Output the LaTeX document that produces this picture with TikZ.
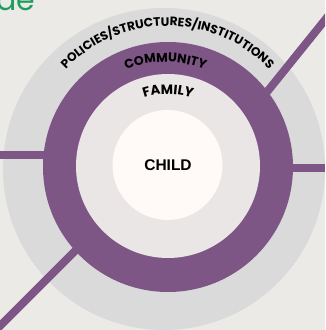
\documentclass[tikz,border=0pt]{standalone}
\usepackage{fontspec}
\setmainfont{Liberation Sans}
\newfontfamily\headfont{Poppins}
\newfontfamily\arcfont{Poppins}
\usetikzlibrary{decorations.text}
\definecolor{bgc}{HTML}{EBEAE6}
\definecolor{grayc}{HTML}{DADADA}
\definecolor{purplec}{HTML}{7D5686}
\definecolor{famc}{HTML}{E9E6E5}
\definecolor{childc}{HTML}{FFF9F8}
\definecolor{greenc}{HTML}{1F9D5F}
\tikzset{
  x=1pt,y=1pt,
  ring/.style={circle,inner sep=0pt,minimum size=#1},
  spoke/.style={draw=purplec,line width=8pt},
}
\begin{document}
\begin{tikzpicture}
\useasboundingbox (0,0) rectangle (325,330);
\clip (0,0) rectangle (325,330);
\fill[bgc] (0,0) rectangle (325,330);
\coordinate (c) at (168,163);
\node[ring=322pt,fill=grayc] (policies) at (164,161) {};
\coordinate (ur) at (333,320);
\coordinate (ul) at (0,174.5);
\coordinate (r) at (325,162);
\coordinate (ll) at (-4,0);
\coordinate (urin) at (250,217);
\coordinate (lin) at (60,174.5);
\coordinate (rin) at (280,162);
\coordinate (llin) at (90,94);
\draw[spoke] (urin) -- (ur);
\draw[spoke] (lin) -- (ul);
\draw[spoke] (rin) -- (r);
\draw[spoke] (llin) -- (ll);
\node[ring=250pt,fill=purplec] (community) at (c) {};
\node[ring=184pt,fill=famc] (family) at (168,164) {};
\node[ring=110pt,fill=childc] (child) at (167.5,165) {};
\node[font=\bfseries\fontsize{15.5}{15.5}\selectfont] (childlabel) at (168,165) {CHILD};
\node[anchor=base west,text=greenc,font=\headfont\fontsize{30}{30}\selectfont,inner sep=0pt] (head) at (-4,319) {de};
\path[decorate,decoration={text along path,text align=center,text={|\arcfont\bfseries\fontsize{12.2}{12.2}\selectfont|POLICIES/STRUCTURES/INSTITUTIONS}}]
  (167.5,163) ++(140:141) arc[start angle=140,end angle=40,radius=141];
\path[decorate,decoration={text along path,text align=center,text={|\arcfont\bfseries\fontsize{12.6}{12.6}\selectfont|COMMUNITY}}]
  (165.5,163) ++(130:105) arc[start angle=130,end angle=50,radius=105];
\path[decorate,decoration={text along path,text align=center,text={|\arcfont\bfseries\fontsize{13.4}{13.4}\selectfont|FAMILY}}]
  (168,163) ++(130:73) arc[start angle=130,end angle=50,radius=73];
\end{tikzpicture}
\end{document}
